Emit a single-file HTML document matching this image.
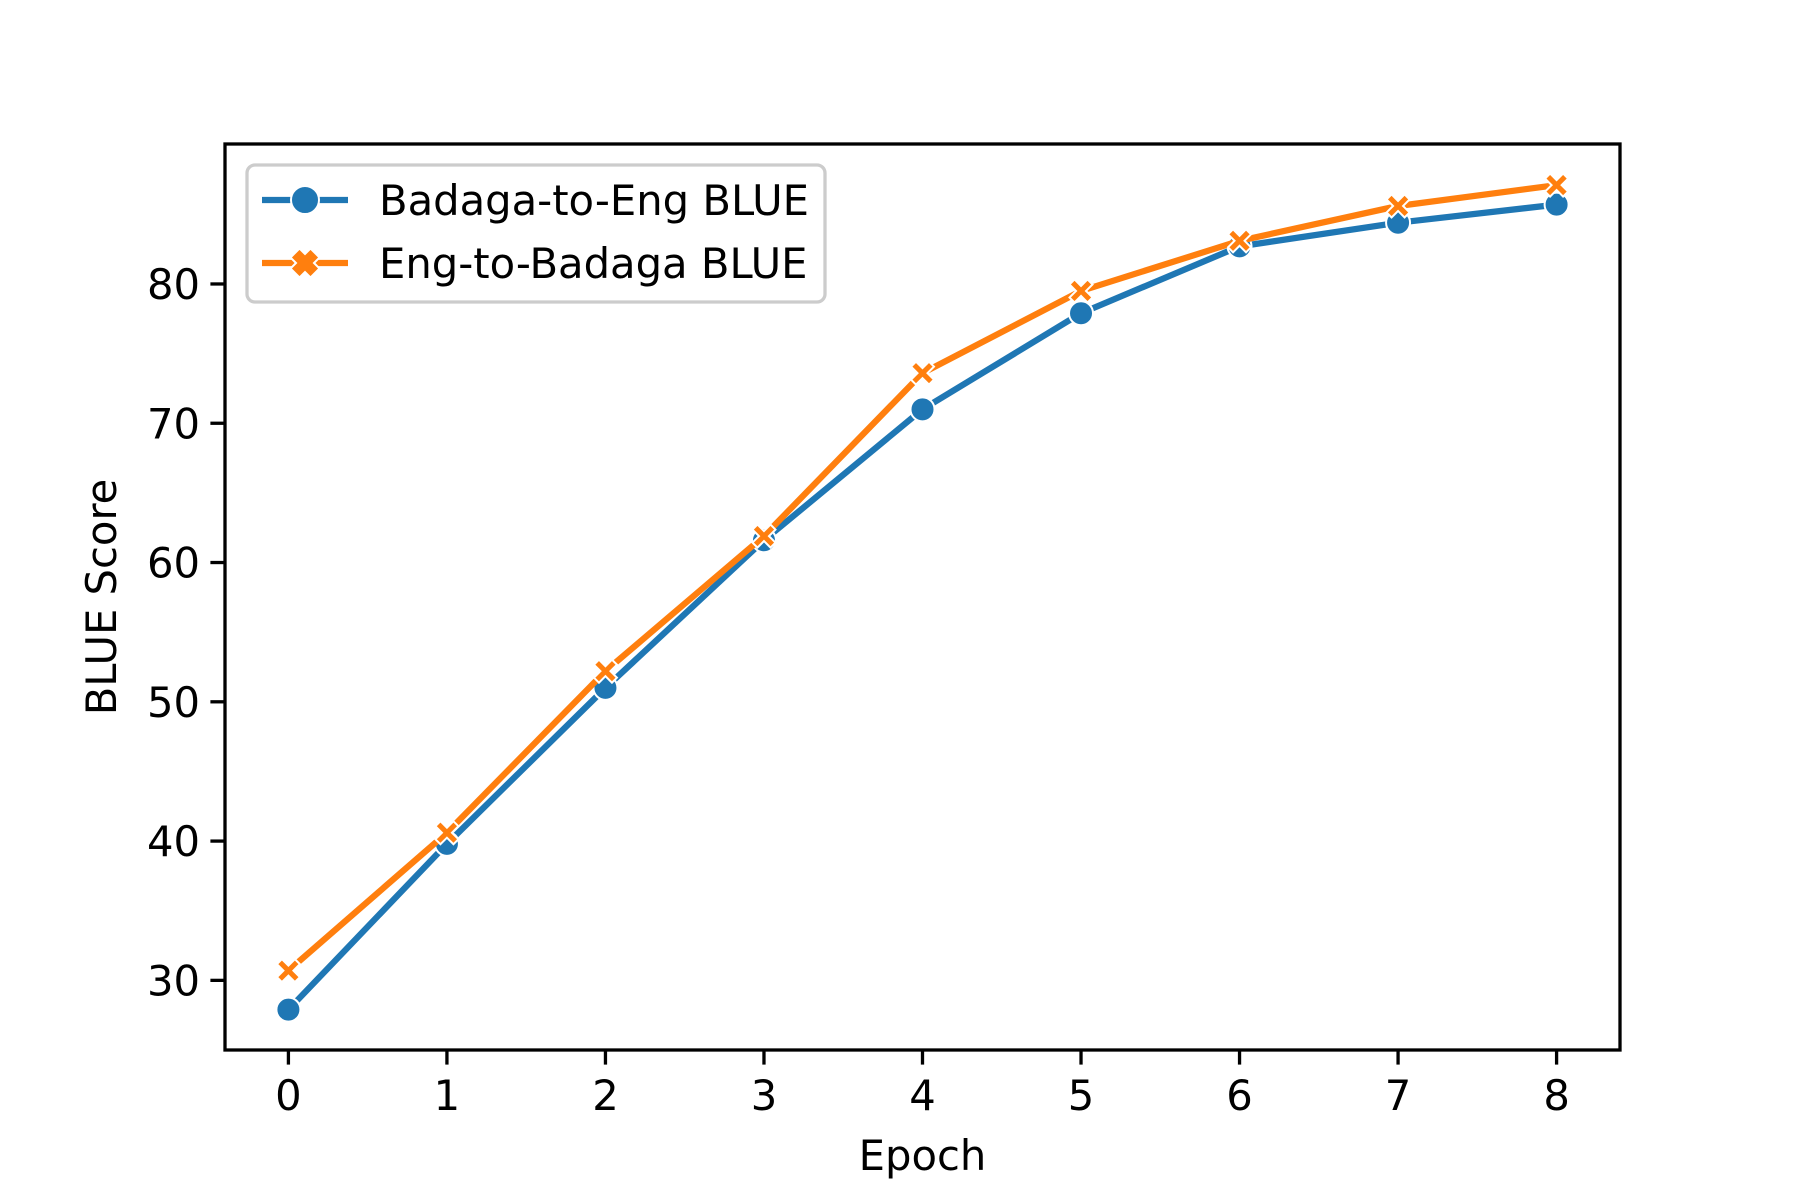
<!DOCTYPE html>
<html><head><meta charset="utf-8"><style>
html,body{margin:0;padding:0;background:#fff;}
svg{display:block;font-family:"DejaVu Sans","Liberation Sans",sans-serif;}
</style></head><body>
<svg id="chart" width="1800" height="1200" viewBox="0 0 1800 1200" xmlns="http://www.w3.org/2000/svg">
<rect width="1800" height="1200" fill="#fff"/>
<g id="grid"></g>
<g id="series"></g>
<g id="axes"></g>
<g id="legend"></g>
</svg>
<script>
const epochs = [0,1,2,3,4,5,6,7,8];
const badagaToEng = [27.9,39.8,51.0,61.6,71.0,77.9,82.7,84.4,85.7];
const engToBadaga = [30.7,40.6,52.2,61.9,73.6,79.5,83.1,85.6,87.1];
const yTicks = [30,40,50,60,70,80];
const xTicks = [0,1,2,3,4,5,6,7,8];

const L=225,R=1620,T=144,B=1050;
const xMin=-0.4,xMax=8.4,yMin=25,yMax=90.05;
const sx=v=>L+(v-xMin)/(xMax-xMin)*(R-L);
const sy=v=>B-(v-yMin)/(yMax-yMin)*(B-T);
const NS="http://www.w3.org/2000/svg";
function mk(tag,attrs,parent){const e=document.createElementNS(NS,tag);for(const k in attrs)e.setAttribute(k,attrs[k]);parent.appendChild(e);return e;}
const series=document.getElementById('series'),axes=document.getElementById('axes'),legend=document.getElementById('legend');

function xMarker(cx,cy,parent,name,s,w){
  s=s||9; w=w||5;
  const d=`M${cx-s-w/2},${cy-s+w/2} L${cx-s+w/2},${cy-s-w/2} L${cx},${cy-w} L${cx+s-w/2},${cy-s-w/2} L${cx+s+w/2},${cy-s+w/2} L${cx+w},${cy} L${cx+s+w/2},${cy+s-w/2} L${cx+s-w/2},${cy+s+w/2} L${cx},${cy+w} L${cx-s+w/2},${cy+s+w/2} L${cx-s-w/2},${cy+s-w/2} L${cx-w},${cy} Z`;
  const p=mk('path',{d:d,fill:'#ff7f0e',stroke:'#fff','stroke-width':2,'stroke-linejoin':'miter'},parent);
  
  
  return p;
}
function drawSeries(vals,color,kind,name){
  const g=mk('g',{},series);
  
  
  const pts=epochs.map((e,i)=>sx(e)+','+sy(vals[i])).join(' ');
  const pl=mk('polyline',{points:pts,fill:'none',stroke:color,'stroke-width':6.25,'stroke-linejoin':'round','stroke-linecap':'square'},g);
  
  
  epochs.forEach((e,i)=>{
    if(kind==='o'){
      const c=mk('circle',{cx:sx(e),cy:sy(vals[i]),r:12,fill:color,stroke:'#fff','stroke-width':2},g);
      
      
    } else xMarker(sx(e),sy(vals[i]),g,name+'-point');
  });
}
drawSeries(badagaToEng,'#1f77b4','o','badaga-to-eng-series');
drawSeries(engToBadaga,'#ff7f0e','x','eng-to-badaga-series');

const frame=mk('rect',{x:L,y:T,width:R-L,height:B-T,fill:'none',stroke:'#000','stroke-width':3.3},axes);


xTicks.forEach(v=>{
  const x=sx(v);
  const t=mk('line',{x1:x,x2:x,y1:B,y2:B+14.6,stroke:'#000','stroke-width':3.3},axes);
  
  
  const tx=mk('text',{x:x,y:B+60,'text-anchor':'middle','font-size':41.7,fill:'#000'},axes);
  tx.textContent=v;
  
  
});
yTicks.forEach(v=>{
  const y=sy(v);
  const t=mk('line',{x1:L-14.6,x2:L,y1:y,y2:y,stroke:'#000','stroke-width':3.3},axes);
  
  
  const tx=mk('text',{x:L-25,y:y+15,'text-anchor':'end','font-size':41.7,fill:'#000'},axes);
  tx.textContent=v;
  
  
});
const xl=mk('text',{x:(L+R)/2,y:1170,'text-anchor':'middle','font-size':41.7,fill:'#000'},axes);
xl.textContent='Epoch';


const yl=mk('text',{x:0,y:0,'text-anchor':'middle','font-size':41.7,fill:'#000',transform:`translate(116,${(T+B)/2}) rotate(-90)`},axes);
yl.textContent='BLUE Score';



const lb=mk('rect',{x:247,y:165,width:578,height:137,rx:8,fill:'#fff','fill-opacity':0.8,stroke:'#cccccc','stroke-width':3.3},legend);


const entries=[['Badaga-to-Eng BLUE','#1f77b4','o',200],['Eng-to-Badaga BLUE','#ff7f0e','x',263]];
entries.forEach(([label,color,kind,y])=>{
  const g=mk('g',{},legend);
  
  
  mk('line',{x1:262,x2:348,y1:y,y2:y,stroke:color,'stroke-width':6.25},g);
  if(kind==='o') mk('circle',{cx:305,cy:y,r:14,fill:color,stroke:'#fff','stroke-width':2},g);
  else xMarker(305,y,g,'legend-marker',10,9);
  const t=mk('text',{x:379,y:y+15,'font-size':41.7,fill:'#000'},g);
  t.textContent=label;
});
</script>
</body></html>
